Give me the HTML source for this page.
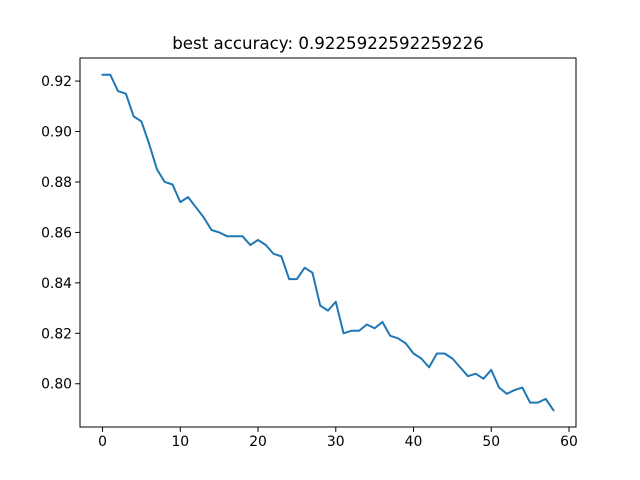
<!DOCTYPE html>
<html><head><meta charset="utf-8"><style>
body{margin:0;background:#fff;}
svg{display:block;font-family:"DejaVu Sans","Liberation Sans",sans-serif;}
</style></head><body>
<svg id="chart" width="640" height="480">
<rect x="0" y="0" width="640" height="480" fill="#fff"/>
<text x="328" y="49" font-size="16.67" text-anchor="middle">best accuracy: 0.9225922592259226</text>
<g id="plot"></g>
<rect x="80" y="58" width="496" height="369" fill="none" stroke="#000" stroke-width="1"/>
</svg>
<script>
const accuracy=[.9225,.9225,.916,.915,.906,.904,.895,.885,.880,.879,.872,.874,.870,.866,.861,.860,.8585,.8585,.8585,.855,.857,.855,.8515,.8505,.8415,.8415,.846,.844,.831,.829,.8325,.820,.821,.821,.8235,.822,.8245,.819,.818,.816,.812,.810,.8065,.812,.812,.810,.8065,.803,.804,.802,.8055,.7985,.796,.7975,.7985,.7925,.7925,.794,.7895];
const xTicks=[0,10,20,30,40,50,60];
const yTicks=[0.80,0.82,0.84,0.86,0.88,0.90,0.92];
const L=80,R=576,T=58,B=427;
const n=accuracy.length;
const xMin=-(n-1)*0.05,xMax=(n-1)*1.05;
const mn=Math.min(...accuracy),mx=Math.max(...accuracy),pad=(mx-mn)*0.05;
const yMin=mn-pad,yMax=mx+pad;
const sx=v=>L+(v-xMin)/(xMax-xMin)*(R-L);
const sy=v=>B-(v-yMin)/(yMax-yMin)*(B-T);
const NS="http://www.w3.org/2000/svg";
const g=document.getElementById('plot');
function el(t,a){const e=document.createElementNS(NS,t);for(const k in a)e.setAttribute(k,a[k]);g.appendChild(e);return e;}
xTicks.forEach(t=>{const x=sx(t);
const l=el('line',{x1:x,x2:x,y1:B,y2:B+4.9,stroke:'#000'});


const tx=el('text',{x:x,y:B+19,'font-size':13.9,'text-anchor':'middle'});tx.textContent=t;

});
yTicks.forEach(t=>{const y=sy(t);
const l=el('line',{x1:L-4.9,x2:L,y1:y,y2:y,stroke:'#000'});


const tx=el('text',{x:L-8,y:y+5,'font-size':13.9,'text-anchor':'end'});tx.textContent=t.toFixed(2);

});
const p=el('polyline',{points:accuracy.map((v,i)=>sx(i)+','+sy(v)).join(' '),fill:'none',stroke:'#1f77b4','stroke-width':2,'stroke-linejoin':'round','stroke-linecap':'square'});


</script>
</body></html>
